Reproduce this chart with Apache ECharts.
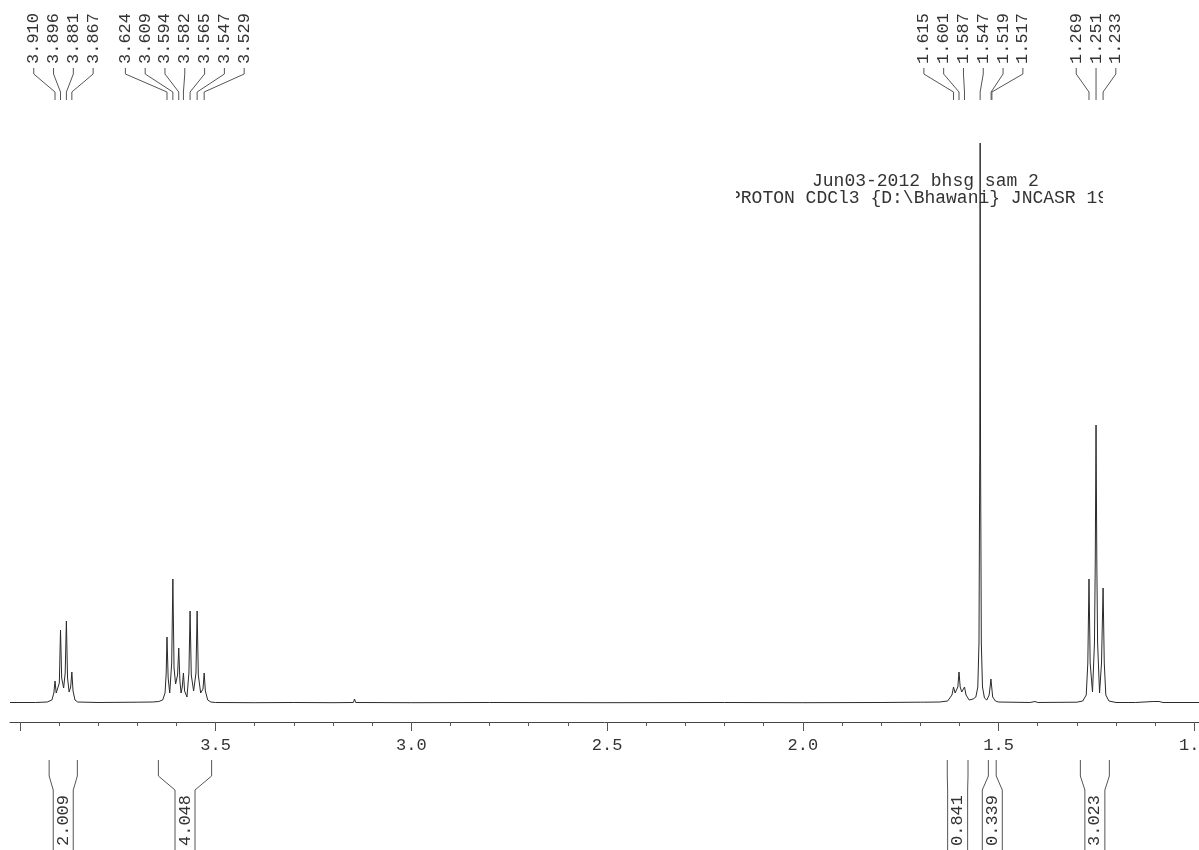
<!DOCTYPE html>
<html>
<head>
<meta charset="utf-8">
<script src="https://cdn.jsdelivr.net/npm/echarts@6/dist/echarts.min.js"></script>
<style>
html,body{margin:0;padding:0;background:#fff;}
#chart{width:1199px;height:850px;}
</style>
</head>
<body>
<div id="chart"></div>
<script>
// ---- data ----
// spectrum trace: chemical shift (ppm) and intensity (arbitrary units)
const specPpm = [4.025, 3.96, 3.93, 3.918, 3.913, 3.910, 3.907, 3.903, 3.899, 3.896, 3.893, 3.888, 3.884, 3.881, 3.878, 3.874, 3.870, 3.867, 3.864, 3.859, 3.852, 3.80, 3.70, 3.66,
  3.645, 3.635, 3.629, 3.626, 3.624, 3.621, 3.617, 3.612, 3.609, 3.606, 3.602, 3.597, 3.594, 3.591, 3.588, 3.585, 3.582, 3.579, 3.573, 3.568, 3.565, 3.562, 3.556, 3.550, 3.547, 3.544, 3.538, 3.532, 3.529, 3.526, 3.520, 3.512, 3.50,
  3.40, 3.30, 3.20, 3.148, 3.145, 3.142, 3.00, 2.80, 2.50, 2.20, 2.00, 1.80, 1.70, 1.696, 1.692, 1.65, 1.63,
  1.625, 1.619, 1.615, 1.611, 1.608, 1.604, 1.601, 1.598, 1.594, 1.590, 1.587, 1.583, 1.575, 1.565, 1.558, 1.553, 1.550, 1.548, 1.547, 1.546, 1.544, 1.541, 1.536, 1.530, 1.524, 1.521, 1.5195, 1.518, 1.515, 1.508, 1.50,
  1.42, 1.407, 1.40, 1.30, 1.285, 1.276, 1.272, 1.269, 1.266, 1.260, 1.255, 1.253, 1.251, 1.249, 1.247, 1.242, 1.237, 1.233, 1.230, 1.226, 1.218, 1.20, 1.15, 1.105, 1.10, 1.09, 1.08, 0.988];
const specInt = [0.5, 0.5, 1, 3, 10, 22, 10, 8, 20, 73, 25, 15, 30, 82, 25, 11, 16, 31, 12, 3, 1, 0.5, 0.8, 1,
  1.5, 3, 10, 30, 66, 25, 10, 40, 124, 35, 19, 28, 55, 22, 10, 16, 30, 12, 6, 30, 92, 28, 12, 30, 92, 28, 10, 14, 30, 12, 3, 1, 0.5,
  0.3, 0.5, 0.3, 0.5, 4, 0.5, 0.3, 0.5, 0.3, 0.5, 0.3, 0.5, 0.8, 2, 0.8, 1, 2,
  4, 8, 16, 10, 8, 16, 31, 16, 11, 12, 16, 8, 3, 4, 6, 16, 60, 250, 560, 250, 60, 16, 5, 3, 8, 18, 24, 18, 6, 2, 1,
  0.5, 1.5, 0.5, 0.8, 2, 8, 40, 124, 40, 11, 60, 140, 278, 140, 60, 10, 40, 115, 40, 8, 2, 0.5, 0.5, 1.5, 0.5, 1.5, 0.5, 0.5];

// picked peak labels (ppm), grouped as in the reference
const peakGroups = [
  [3.910, 3.896, 3.881, 3.867],
  [3.624, 3.609, 3.594, 3.582, 3.565, 3.547, 3.529],
  [1.615, 1.601, 1.587, 1.547, 1.519, 1.517],
  [1.269, 1.251, 1.233]
];

// integration regions (ppm) and values
const integralStart = [3.925, 3.646, 1.631, 1.526, 1.291];
const integralEnd   = [3.853, 3.510, 1.578, 1.506, 1.217];
const integralValues = ['2.009', '4.048', '0.841', '0.339', '3.023'];

// axis ticks
const majorTicks = [1.0, 1.5, 2.0, 2.5, 3.0, 3.5, 4.0];
const tickLabels = [1.0, 1.5, 2.0, 2.5, 3.0, 3.5];
const minorTicks = [1.1, 1.2, 1.3, 1.4, 1.6, 1.7, 1.8, 1.9, 2.1, 2.2, 2.3, 2.4, 2.6, 2.7, 2.8, 2.9, 3.1, 3.2, 3.3, 3.4, 3.6, 3.7, 3.8, 3.9];

const titleLines = ['Jun03-2012 bhsg sam 2', 'PROTON CDCl3 {D:\\Bhawani} JNCASR 19'];

// ---- chart ----
const FONT = '"Liberation Mono", "DejaVu Sans Mono", monospace';
const X_MIN = 0.988, X_MAX = 4.025;

const specData = specPpm.map((p, i) => [p, specInt[i]]);

const peakData = [];
peakGroups.forEach((g, gi) => {
  const mean = g.reduce((a, b) => a + b, 0) / g.length;
  g.forEach((p, k) => peakData.push([p, gi, k, g.length, mean]));
});

const integralData = integralStart.map((s, i) => [s, integralEnd[i], i]);

const chart = echarts.init(document.getElementById('chart'), null, {renderer: 'canvas'});

const baseX = {
  type: 'value', min: X_MIN, max: X_MAX, inverse: true, position: 'bottom', offset: 0,
  splitLine: {show: false}
};

chart.setOption({
  animation: false,
  backgroundColor: '#ffffff',
  grid: {left: 10, right: 0, top: 143, bottom: 128, containLabel: false, outerBoundsMode: 'none'},
  xAxis: [
    Object.assign({}, baseX, {
      axisLine: {show: true, onZero: false, lineStyle: {color: '#444', width: 1}},
      axisTick: {show: true, length: 9, lineStyle: {color: '#555'}, customValues: majorTicks},
      axisLabel: {show: true, customValues: tickLabels, margin: 15, hideOverlap: false,
        formatter: v => Number(v).toFixed(1),
        color: '#333', fontFamily: FONT, fontSize: 17}
    }),
    Object.assign({}, baseX, {
      axisLine: {show: false, onZero: false},
      axisTick: {show: true, length: 4, lineStyle: {color: '#555'}, customValues: minorTicks},
      axisLabel: {show: false}
    })
  ],
  yAxis: {type: 'value', min: -19, max: 560, show: false, splitLine: {show: false}},
  series: [
    {
      type: 'custom', name: 'title', coordinateSystem: 'cartesian2d', clip: false, z: 1,
      data: [[2.0, 0]],
      renderItem: function () {
        const lefts = [812, 730];
        return {
          type: 'group',
          clipPath: {type: 'rect', shape: {x: 736, y: 160, width: 367, height: 50}},
          children: titleLines.map((t, i) => ({
            type: 'text', x: lefts[i], y: 181 + i * 17,
            style: {text: t, font: '18px ' + FONT, fill: '#333', align: 'left', verticalAlign: 'middle'}
          }))
        };
      }
    },
    {
      type: 'line', name: 'spectrum', data: specData, showSymbol: false, symbol: 'none',
      smooth: false, z: 3,
      lineStyle: {color: '#2a2a2a', width: 1}
    },
    {
      type: 'custom', name: 'peaks', coordinateSystem: 'cartesian2d', clip: false,
      data: peakData,
      renderItem: function (params, api) {
        const ppm = api.value(0), k = api.value(2), n = api.value(3), mean = api.value(4);
        const px = api.coord([ppm, 0])[0];
        const cx = api.coord([mean, 0])[0];
        const lx = cx + (k - (n - 1) / 2) * 19.8;
        return {
          type: 'group',
          children: [
            {type: 'text', x: lx, y: 64, rotation: Math.PI / 2,
              style: {text: ppm.toFixed(3), font: '17px ' + FONT, fill: '#333', align: 'left', verticalAlign: 'middle'}},
            {type: 'polyline', shape: {points: [[lx, 68], [lx, 74], [px, 92], [px, 100]]},
              style: {stroke: '#555', lineWidth: 1, fill: null}}
          ]
        };
      }
    },
    {
      type: 'custom', name: 'integrals', coordinateSystem: 'cartesian2d', clip: false,
      data: integralData,
      renderItem: function (params, api) {
        const xa = api.coord([api.value(0), 0])[0];
        const xb = api.coord([api.value(1), 0])[0];
        const i = api.value(2);
        const cx = (xa + xb) / 2, h = 10;
        return {
          type: 'group',
          children: [
            {type: 'polyline', shape: {points: [[xa, 760], [xa, 776], [cx - h, 790], [cx - h, 850]]},
              style: {stroke: '#555', lineWidth: 1, fill: null}},
            {type: 'polyline', shape: {points: [[xb, 760], [xb, 776], [cx + h, 790], [cx + h, 850]]},
              style: {stroke: '#555', lineWidth: 1, fill: null}},
            {type: 'text', x: cx, y: 846, rotation: Math.PI / 2,
              style: {text: integralValues[i], font: '17px ' + FONT, fill: '#333', align: 'left', verticalAlign: 'middle'}}
          ]
        };
      }
    }
  ]
});
</script>
</body>
</html>
